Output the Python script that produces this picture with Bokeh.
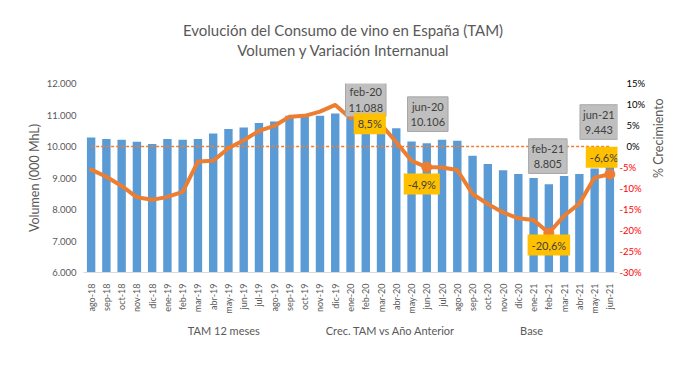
import math
from bokeh.plotting import figure
from bokeh.layouts import column
from bokeh.models import (Range1d, LinearAxis, FixedTicker, Label, Div,
                          ColumnDataSource, Legend, LegendItem)
from bokeh.embed import file_html
from bokeh.resources import INLINE

# ---------------- data ----------------
months = ["ago-18", "sep-18", "oct-18", "nov-18", "dic-18", "ene-19", "feb-19",
          "mar-19", "abr-19", "may-19", "jun-19", "jul-19", "ago-19", "sep-19",
          "oct-19", "nov-19", "dic-19", "ene-20", "feb-20", "mar-20", "abr-20",
          "may-20", "jun-20", "jul-20", "ago-20", "sep-20", "oct-20", "nov-20",
          "dic-20", "ene-21", "feb-21", "mar-21", "abr-21", "may-21", "jun-21"]
volume = [10286, 10235, 10213, 10150, 10076, 10235, 10213, 10235, 10413, 10552,
          10603, 10743, 10794, 10975, 10950, 10975, 11048, 10921, 11088, 10850,
          10580, 10159, 10106, 10213, 10181, 9705, 9441, 9250, 9124, 8997,
          8805, 9060, 9124, 9300, 9443]
growth = [-5.5, -7.2, -9.4, -12.1, -12.7, -12.0, -10.8, -3.6, -3.4, -0.4,
          1.5, 3.7, 4.9, 7.1, 7.3, 8.3, 9.9, 6.7, 8.5, 5.3,
          1.0, -3.4, -4.9, -5.0, -5.6, -11.3, -13.7, -15.7, -17.1, -17.5,
          -20.6, -16.5, -13.6, -7.4, -6.6]
base = [0] * len(months)

vol_ticks = [6000, 7000, 8000, 9000, 10000, 11000, 12000]
vol_tick_labels = ["6.000", "7.000", "8.000", "9.000", "10.000", "11.000", "12.000"]
pct_ticks = [-30, -25, -20, -15, -10, -5, 0, 5, 10, 15]
pct_tick_labels = ["-30%", "-25%", "-20%", "-15%", "-10%", "-5%", "0%", "5%", "10%", "15%"]

highlight = ["feb-20", "jun-20", "feb-21", "jun-21"]

series_names = ["TAM 12 meses", "Crec. TAM vs Año Anterior", "Base"]

title_1 = "Evolución del Consumo de vino en España (TAM)"
title_2 = "Volumen y Variación Internanual"

# ---------------- styles ----------------
FONT = "Lato"
GREY_TXT = "#595959"
BLUE = "#5B9BD5"
ORANGE = "#ED7D31"

FW, FH = 534, 189

idx = list(range(len(months)))

title_div = Div(text=f"{title_1}<br>{title_2}", width=686, height=53, margin=(20, 0, 0, 0),
                styles={"text-align": "center", "font-family": FONT, "font-size": "15px",
                        "color": GREY_TXT, "line-height": "20px"})

p = figure(frame_width=FW, frame_height=FH, output_backend="svg", toolbar_location=None,
           x_range=Range1d(-0.5, len(months) - 0.5),
           y_range=Range1d(vol_ticks[0], vol_ticks[-1]),
           min_border_left=0, min_border_right=0, min_border_top=10, min_border_bottom=0)
p.title = None
p.margin = (0, 0, 0, 23)
p.extra_y_ranges = {"pct": Range1d(pct_ticks[0], pct_ticks[-1])}
p.grid.visible = False
p.outline_line_color = None
p.background_fill_color = "white"
p.border_fill_color = "white"

# x axis
xa = p.xaxis[0]
xa.ticker = FixedTicker(ticks=idx)
xa.major_label_overrides = {i: m for i, m in zip(idx, months)}
xa.major_label_orientation = math.pi / 2
xa.major_label_text_font = FONT
xa.major_label_text_font_size = "9px"
xa.major_label_text_color = GREY_TXT
xa.major_tick_line_color = None
xa.minor_tick_line_color = None
xa.axis_line_color = "#D9D9D9"
xa.major_label_standoff = 5

# left axis
ya = p.yaxis[0]
ya.ticker = FixedTicker(ticks=vol_ticks)
ya.major_label_overrides = {t: l for t, l in zip(vol_ticks, vol_tick_labels)}
ya.major_label_text_font = FONT
ya.major_label_text_font_size = "9.5px"
ya.major_label_text_color = GREY_TXT
ya.major_tick_line_color = None
ya.minor_tick_line_color = None
ya.axis_line_color = None
ya.axis_label = "Volumen (000 MhL)"
ya.axis_label_text_font = FONT
ya.axis_label_text_font_size = "12.5px"
ya.axis_label_text_font_style = "normal"
ya.axis_label_text_color = GREY_TXT
ya.major_label_standoff = 1
ya.axis_label_standoff = 2

# right axes: inner one carries the red negative labels, outer one the black
# non-negative labels (pulled back over the inner one) and the axis title
ra_red = LinearAxis(y_range_name="pct", ticker=FixedTicker(ticks=pct_ticks))
ra_red.major_label_overrides = {t: (l if t < 0 else " ") for t, l in zip(pct_ticks, pct_tick_labels)}
ra_blk = LinearAxis(y_range_name="pct", ticker=FixedTicker(ticks=pct_ticks))
ra_blk.major_label_overrides = {t: (l if t >= 0 else " ") for t, l in zip(pct_ticks, pct_tick_labels)}
for ax, col in ((ra_red, "#FF0000"), (ra_blk, "#000000")):
    ax.major_label_text_font = FONT
    ax.major_label_text_font_size = "9.5px"
    ax.major_label_text_color = col
    ax.major_tick_line_color = None
    ax.minor_tick_line_color = None
    ax.axis_line_color = None
ra_red.major_label_standoff = -4
ra_blk.major_label_standoff = -24
ra_blk.axis_label = "% Crecimiento"
ra_blk.axis_label_text_font = FONT
ra_blk.axis_label_text_font_size = "12.5px"
ra_blk.axis_label_text_font_style = "normal"
ra_blk.axis_label_text_color = GREY_TXT
ra_blk.axis_label_orientation = math.pi / 2
ra_blk.axis_label_standoff = 10
p.add_layout(ra_red, "right")
p.add_layout(ra_blk, "right")

# glyphs
src = ColumnDataSource(dict(x=idx, vol=volume, pct=growth, base=base))
bar_style = dict(fill_color=BLUE, line_color=None)
line_style = dict(line_color=ORANGE, line_width=4, line_join="round", line_cap="round")
base_style = dict(line_color=ORANGE, line_width=1.3, line_dash="3 2")

p.vbar(x="x", top="vol", bottom=vol_ticks[0], width=0.55, source=src, **bar_style)
p.line(x="x", y="base", source=src, y_range_name="pct", **base_style)
p.line(x="x", y="pct", source=src, y_range_name="pct", **line_style)
hi_idx = [months.index(m) for m in highlight]
p.scatter(x=hi_idx, y=[growth[i] for i in hi_idx], y_range_name="pct",
          size=10, fill_color=ORANGE, line_color=ORANGE)


def fmt_vol(v):
    return f"{v:,.0f}".replace(",", ".")


def fmt_pct(v):
    return f"{v:.1f}%".replace(".", ",")


# (x_offset, y_offset) in px for the grey volume labels and yellow growth labels
grey_off = {"feb-20": (0, 13), "jun-20": (1, 29), "feb-21": (-1, 28), "jun-21": (-11, 42)}
yel_off = {"feb-20": (4, -13), "jun-20": (-5, -17), "feb-21": (0, -12), "jun-21": (-6, 17)}

for m in highlight:
    i = months.index(m)
    gx, gy = grey_off[m]
    p.add_layout(Label(x=i, y=volume[i], x_offset=gx, y_offset=gy,
                       text=f"{m}\n{fmt_vol(volume[i])}", text_align="center",
                       text_baseline="middle", text_font=FONT, text_font_size="11px",
                       text_color="#404040", background_fill_color="#BFBFBF",
                       border_line_color="#A6A6A6", padding=3))
for m in highlight:
    i = months.index(m)
    yx, yy = yel_off[m]
    p.add_layout(Label(x=i, y=growth[i], y_range_name="pct", x_offset=yx, y_offset=yy,
                       text=fmt_pct(growth[i]), text_align="center",
                       text_baseline="middle", text_font=FONT, text_font_size="11px",
                       text_color="#404040", background_fill_color="#FFC000",
                       border_line_color=None, padding=4))

# legend strip (own small plot, same glyph styles as the chart series)
lf = figure(width=686, height=28, output_backend="svg", toolbar_location=None,
            x_axis_location=None, y_axis_location=None,
            x_range=Range1d(0, 1), y_range=Range1d(0, 1),
            min_border_left=0, min_border_right=0, min_border_top=0, min_border_bottom=0)
lf.title = None
lf.grid.visible = False
lf.outline_line_color = None
lf_bar = lf.vbar(x=[], top=[], width=0.5, **bar_style)
lf_line = lf.line(x=[], y=[], **line_style)
lf_base = lf.line(x=[], y=[], **base_style)
legend = Legend(items=[LegendItem(label=n, renderers=[r]) for n, r in
                       zip(series_names, [lf_bar, lf_line, lf_base])],
                orientation="horizontal", location="center",
                border_line_color=None, background_fill_alpha=0,
                label_text_font=FONT, label_text_font_size="11px",
                label_text_color=GREY_TXT, glyph_width=40, glyph_height=9,
                label_height=13, spacing=22, padding=0, margin=0, label_standoff=4)
lf.add_layout(legend)

layout = column(title_div, p, lf)

open("out.html", "w").write(file_html(layout, INLINE))
